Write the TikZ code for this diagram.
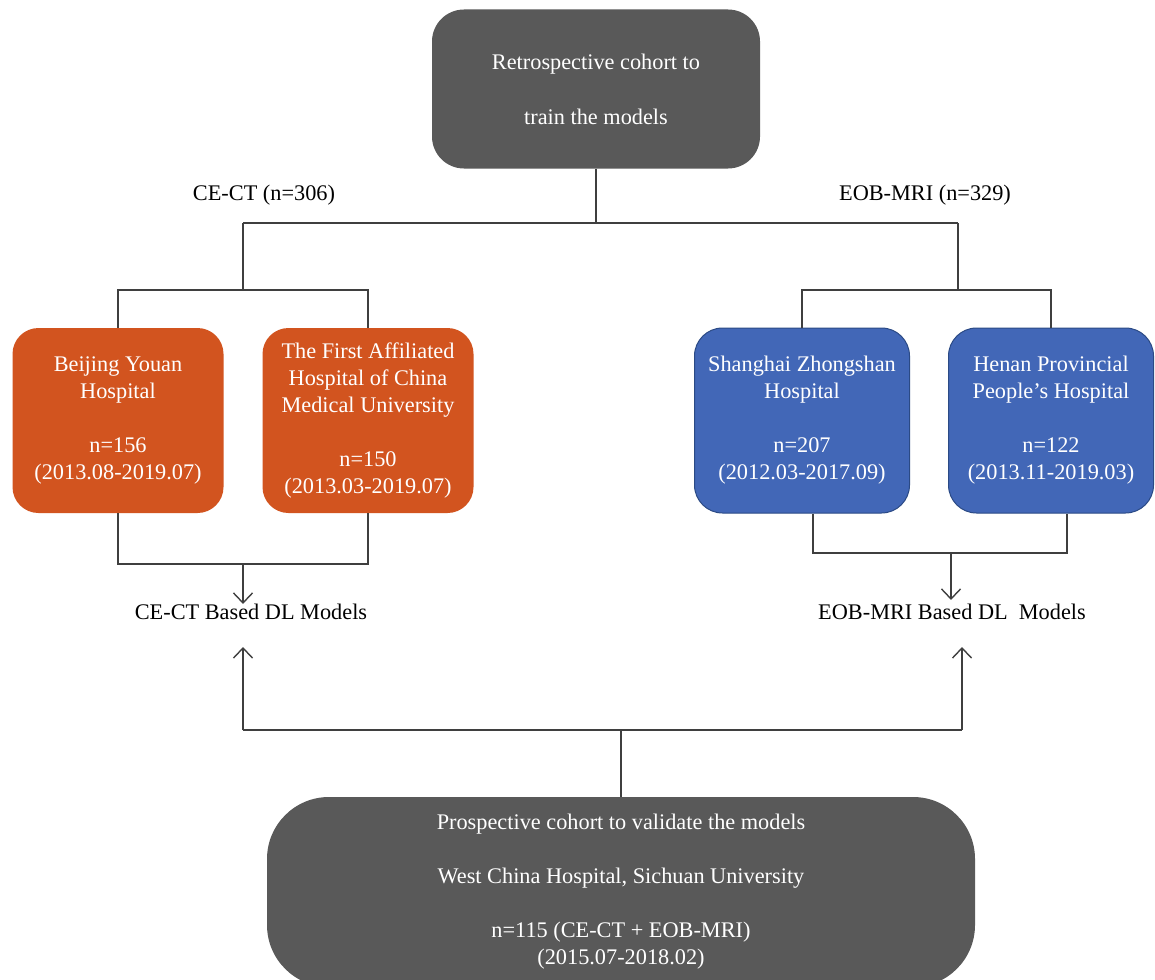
\documentclass[tikz,border=0pt]{standalone}
\usepackage{fontspec}
\setmainfont{Liberation Serif}
\usetikzlibrary{arrows.meta,calc}
\definecolor{boxgray}{HTML}{595959}
\definecolor{boxorange}{HTML}{D2541F}
\definecolor{boxblue}{HTML}{4267B7}
\definecolor{blueedge}{HTML}{2B4A85}
\definecolor{linegray}{HTML}{3F3F3F}
\begin{document}
\begin{tikzpicture}[x=1pt,y=-1pt,
  every node/.style={font=\fontsize{22.3}{27}\selectfont},
  graybox/.style={fill=boxgray, text=white, align=center, inner sep=0pt},
  orangebox/.style={fill=boxorange, text=white, rounded corners=26pt, minimum width=211pt, minimum height=185pt, align=center, inner sep=0pt},
  bluebox/.style={fill=boxblue, draw=blueedge, line width=1pt, text=white, rounded corners=28pt, minimum height=185pt, align=center, inner sep=0pt},
  conn/.style={draw=linegray, line width=1.6pt},
  arr/.style={conn, -{Straight Barb[length=10pt,width=19pt,line width=1.4pt]}},
  lbl/.style={inner sep=0pt, text=black}
]
\clip (0,0) rectangle (1155,979);
\fill[white] (0,0) rectangle (1155,979);

% boxes
\node[graybox, rounded corners=32pt, minimum width=328pt, minimum height=159pt, font=\fontsize{22.3}{55}\selectfont] (top) at (596,89) {Retrospective cohort to\\train the models};
\node[orangebox] (o1) at (118,420.5) {Beijing Youan\\Hospital\\[27pt]n=156\\(2013.08-2019.07)};
\node[orangebox] (o2) at (368,420.5) {The First Affiliated\\Hospital of China\\Medical University\\[27pt]n=150\\(2013.03-2019.07)};
\node[bluebox, minimum width=215pt] (b1) at (802,420.5) {Shanghai Zhongshan\\Hospital\\[27pt]n=207\\(2012.03-2017.09)};
\node[bluebox, minimum width=205pt] (b2) at (1051,420.5) {Henan Provincial\\People’s Hospital\\[27pt]n=122\\(2013.11-2019.03)};
\node[graybox, rounded corners=62pt, minimum width=708pt, minimum height=190pt] (bot) at (621,892) {Prospective cohort to validate the models\\[27pt]West China Hospital, Sichuan University\\[27pt]n=115 (CE-CT + EOB-MRI)\\(2015.07-2018.02)};

% labels
\node[lbl] (lct) at (264,195) {CE-CT (n=306)};
\node[lbl] (lmr) at (925,195) {EOB-MRI (n=329)};
\node[lbl] (mct) at (251,612) {CE-CT Based DL Models};
\node[lbl] (mmr) at (952,612) {EOB-MRI Based DL\ \ Models};

% junction coordinates
\coordinate (jl) at (243,223);
\coordinate (jr) at (958,223);
\coordinate (jl2) at (243,290);
\coordinate (jr2) at (958,290);
\coordinate (hl) at (0,290);
\coordinate (ol) at (0,564);
\coordinate (orr) at (0,553);
\coordinate (ctin) at (243,564);
\coordinate (mrin) at (951,553);
\coordinate (upl) at (243,730);
\coordinate (upr) at (962,730);
\coordinate (tipy) at (0,647);
\coordinate (b1s) at ($(b1.south)+(11,0)$);
\coordinate (b2s) at ($(b2.south)+(16,0)$);

% top tree
\draw[conn] (top.south) -- (top.south |- jl);
\draw[conn] (jl) -- (jr);
\draw[conn] (jl) -- (jl2);
\draw[conn] (jr) -- (jr2);
\draw[conn] (o1.north) -- (o1.north |- hl) -- (o2.north |- hl) -- (o2.north);
\draw[conn] (b1.north) -- (b1.north |- hl) -- (b2.north |- hl) -- (b2.north);

% merge to models
\draw[conn] (o1.south) -- (o1.south |- ol) -- (o2.south |- ol) -- (o2.south);
\draw[conn] (b1s) -- (b1s |- orr) -- (b2s |- orr) -- (b2s);
\draw[arr] (ctin) -- (ctin |- mct.north);
\draw[arr] (mrin) -- ($(mrin |- mmr.north)+(0,-4)$);

% validation
\draw[conn] (bot.north) -- (bot.north |- upl);
\draw[conn] (upl) -- (upr);
\draw[arr] (upl) -- (upl |- tipy);
\draw[arr] (upr) -- (upr |- tipy);
\end{tikzpicture}
\end{document}
